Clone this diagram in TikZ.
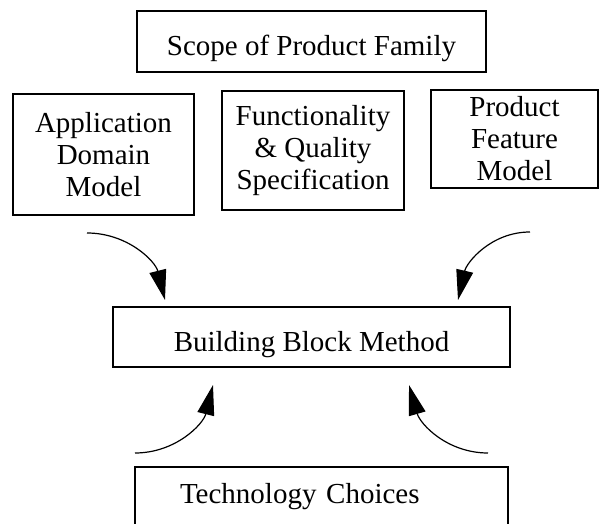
\documentclass[tikz,border=0pt]{standalone}
\usepackage{fontspec}
\setmainfont{Liberation Serif}
\usetikzlibrary{arrows.meta}
\begin{document}
\begin{tikzpicture}[x=1pt,y=1pt,
  box/.style={draw,line width=2pt,inner sep=0pt,align=center,
    font=\fontsize{29}{32}\selectfont},
  oneline/.style={text height=28pt,text depth=0pt},
  flow/.style={line width=1.2pt,-{Triangle[length=30pt,width=17pt]}}]
\useasboundingbox (0,0) rectangle (600,-524);

% input boxes
\node[box,oneline,minimum width=349pt,minimum height=61pt] (scope) at (311.5,-41.5) {Scope of Product Family};
\node[box,minimum width=181pt,minimum height=121pt] (domain) at (103.5,-154.5) {Application\\Domain\\Model};
\node[box,minimum width=182pt,minimum height=119pt] (func) at (313,-150.5) {Functionality\\\&~Quality\\Specification};
\node[box,minimum width=167pt,minimum height=98pt] (feature) at (514.5,-139) {Product\\Feature\\Model};

% method box
\node[box,oneline,minimum width=397pt,minimum height=60pt] (bbm) at (311.5,-337) {Building Block Method};

% technology box, running past the lower edge
\node[box,align=left,text width=283pt,inner xsep=45pt,text height=14pt,text depth=15pt,minimum height=73pt] (tech) at (321.5,-503.5) {Technology Choices};

% arrow ends
\coordinate (tlA) at (87,-233);
\coordinate (tlB) at (165,-300);
\coordinate (trA) at (530,-232);
\coordinate (trB) at (458,-300);
\coordinate (blA) at (135,-453);
\coordinate (blB) at (213,-385);
\coordinate (brA) at (488,-453);
\coordinate (brB) at (409,-385);

\draw[flow] (tlA) to[out=0,in=104] (tlB);
\draw[flow] (trA) to[out=180,in=77] (trB);
\draw[flow] (blA) to[out=0,in=-104] (blB);
\draw[flow] (brA) to[out=180,in=-74] (brB);
\end{tikzpicture}
\end{document}
